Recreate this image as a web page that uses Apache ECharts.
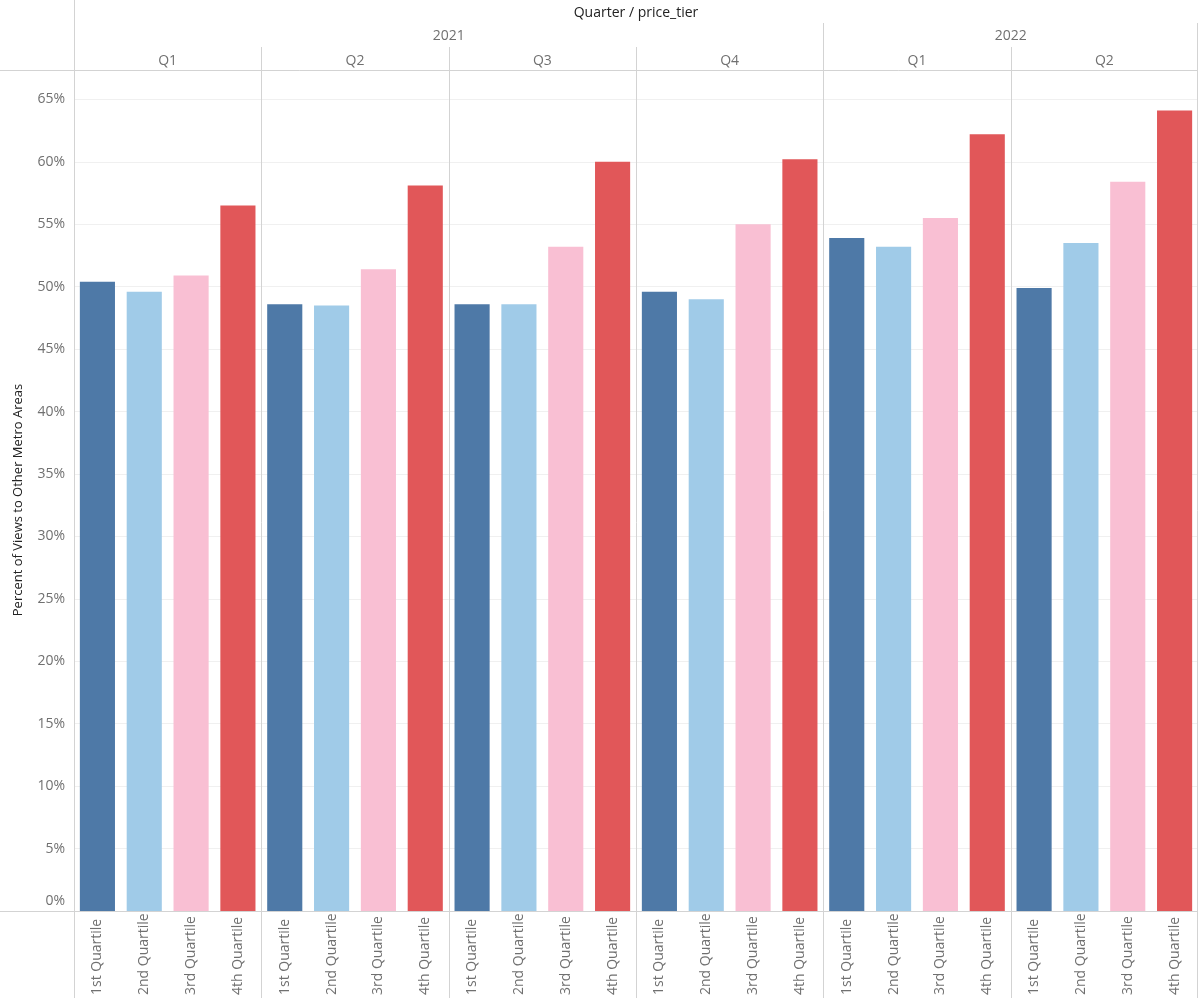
<!DOCTYPE html>
<html>
<head>
<meta charset="utf-8">
<title>Percent of Views to Other Metro Areas</title>
<script src="https://cdn.jsdelivr.net/npm/echarts@6/dist/echarts.min.js"></script>
<style>
  html, body { margin: 0; padding: 0; background: #fff; }
  #chart { width: 1200px; height: 998px; }
</style>
</head>
<body>
<div id="chart"></div>
<script>
// data
const years = ['2021', '2022']
const quarters = ['Q1', 'Q2', 'Q3', 'Q4', 'Q1', 'Q2']
const quarterYear = [0, 0, 0, 0, 1, 1]
const tiers = ['1st Quartile', '2nd Quartile', '3rd Quartile', '4th Quartile']
// one array per price tier, one value per quarter (percent)
const tier1 = [50.4, 48.6, 48.6, 49.6, 53.9, 49.9]
const tier2 = [49.6, 48.5, 48.6, 49.0, 53.2, 53.5]
const tier3 = [50.9, 51.4, 53.2, 55.0, 55.5, 58.4]
const tier4 = [56.5, 58.1, 60.0, 60.2, 62.2, 64.1]
const yTicks = [0, 5, 10, 15, 20, 25, 30, 35, 40, 45, 50, 55, 60, 65]

const tierValues = [tier1, tier2, tier3, tier4]
const colors = ['#4E79A7', '#A0CBE8', '#F9BFD3', '#E15759']

const chart = echarts.init(document.getElementById('chart'))

// layout
const plotLeft = 74
const plotRight = 1198
const plotTop = 70
const plotBottom = 911
const panelW = (plotRight - plotLeft) / quarters.length
const lineColor = '#d3d3d3'
const font = 'Open Sans'

const grids = []
const xAxes = []
const yAxes = []
const series = []

quarters.forEach((q, i) => {
  grids.push({
    left: plotLeft + i * panelW,
    width: panelW,
    top: plotTop,
    height: plotBottom - plotTop
  })
  // bottom axis with tier labels
  xAxes.push({
    type: 'category',
    gridIndex: i,
    data: tiers,
    axisLine: { show: false },
    axisTick: { show: false },
    axisLabel: {
      rotate: 90,
      align: 'left',
      margin: 84,
      color: '#707070',
      fontSize: 14,
      fontFamily: font,
      interval: 0
    }
  })
  // top axis with quarter label
  xAxes.push({
    type: 'category',
    gridIndex: i,
    position: 'top',
    data: [q],
    axisLine: { show: false },
    axisTick: { show: false },
    axisLabel: { color: '#707070', fontSize: 14, fontFamily: font, margin: 2 }
  })
  yAxes.push({
    type: 'value',
    gridIndex: i,
    min: 0,
    max: 67.35,
    interval: 5,
    axisLine: { show: false },
    axisTick: { show: false },
    splitLine: { lineStyle: { color: '#f0f0f0', width: 1 } },
    axisLabel: {
      show: i === 0,
      margin: 9,
      color: '#707070',
      fontSize: 14,
      fontFamily: font,
      formatter: (v) => {
        if (yTicks.indexOf(v) < 0) return ''
        if (v === 0) return '{zero|0%}'
        return v + '%'
      },
      rich: {
        zero: { color: '#707070', fontSize: 14, fontFamily: font, padding: [0, 0, 20, 0] }
      }
    }
  })
  series.push({
    type: 'bar',
    xAxisIndex: i * 2,
    yAxisIndex: i,
    barWidth: '75%',
    data: tiers.map((t, k) => ({
      value: tierValues[k][i],
      itemStyle: { color: colors[k] }
    }))
  })
})

// separators and headers
const graphic = []
const vline = (x, y1, y2) => ({
  type: 'line',
  shape: { x1: x, y1: y1, x2: x, y2: y2 },
  style: { stroke: lineColor, lineWidth: 1 },
  z: 10
})
const hline = (y, x1, x2) => ({
  type: 'line',
  shape: { x1: x1, y1: y, x2: x2, y2: y },
  style: { stroke: lineColor, lineWidth: 1 },
  z: 10
})

graphic.push(vline(plotLeft + 0.5, 0, 998))
graphic.push(hline(plotTop + 0.5, 0, plotRight))
graphic.push(hline(plotBottom + 0.5, 0, plotRight))
graphic.push(vline(plotRight - 0.5, 23, 998))
for (let i = 1; i < quarters.length; i++) {
  const x = Math.round(plotLeft + i * panelW) + 0.5
  const startsYear = quarterYear[i] !== quarterYear[i - 1]
  graphic.push(vline(x, startsYear ? 23 : 47, 998))
}

// year headers
years.forEach((y, yi) => {
  const idx = quarterYear.map((v, k) => (v === yi ? k : -1)).filter((k) => k >= 0)
  const x1 = plotLeft + idx[0] * panelW
  const x2 = plotLeft + (idx[idx.length - 1] + 1) * panelW
  graphic.push({
    type: 'text',
    x: (x1 + x2) / 2,
    y: 36,
    style: {
      text: y,
      fill: '#707070',
      font: '14px "' + font + '"',
      textAlign: 'center',
      textVerticalAlign: 'middle'
    }
  })
})

graphic.push({
  type: 'text',
  x: (plotLeft + plotRight) / 2,
  y: 13,
  style: {
    text: 'Quarter / price_tier',
    fill: '#222',
    font: '14px "' + font + '"',
    textAlign: 'center',
    textVerticalAlign: 'middle'
  }
})

graphic.push({
  type: 'text',
  x: 18,
  y: 500,
  rotation: Math.PI / 2,
  style: {
    text: 'Percent of Views to Other Metro Areas',
    fill: '#222',
    font: '13px "' + font + '"',
    textAlign: 'center',
    textVerticalAlign: 'middle'
  }
})

chart.setOption({
  animation: false,
  grid: grids,
  xAxis: xAxes,
  yAxis: yAxes,
  series: series,
  graphic: graphic
})
</script>
</body>
</html>
